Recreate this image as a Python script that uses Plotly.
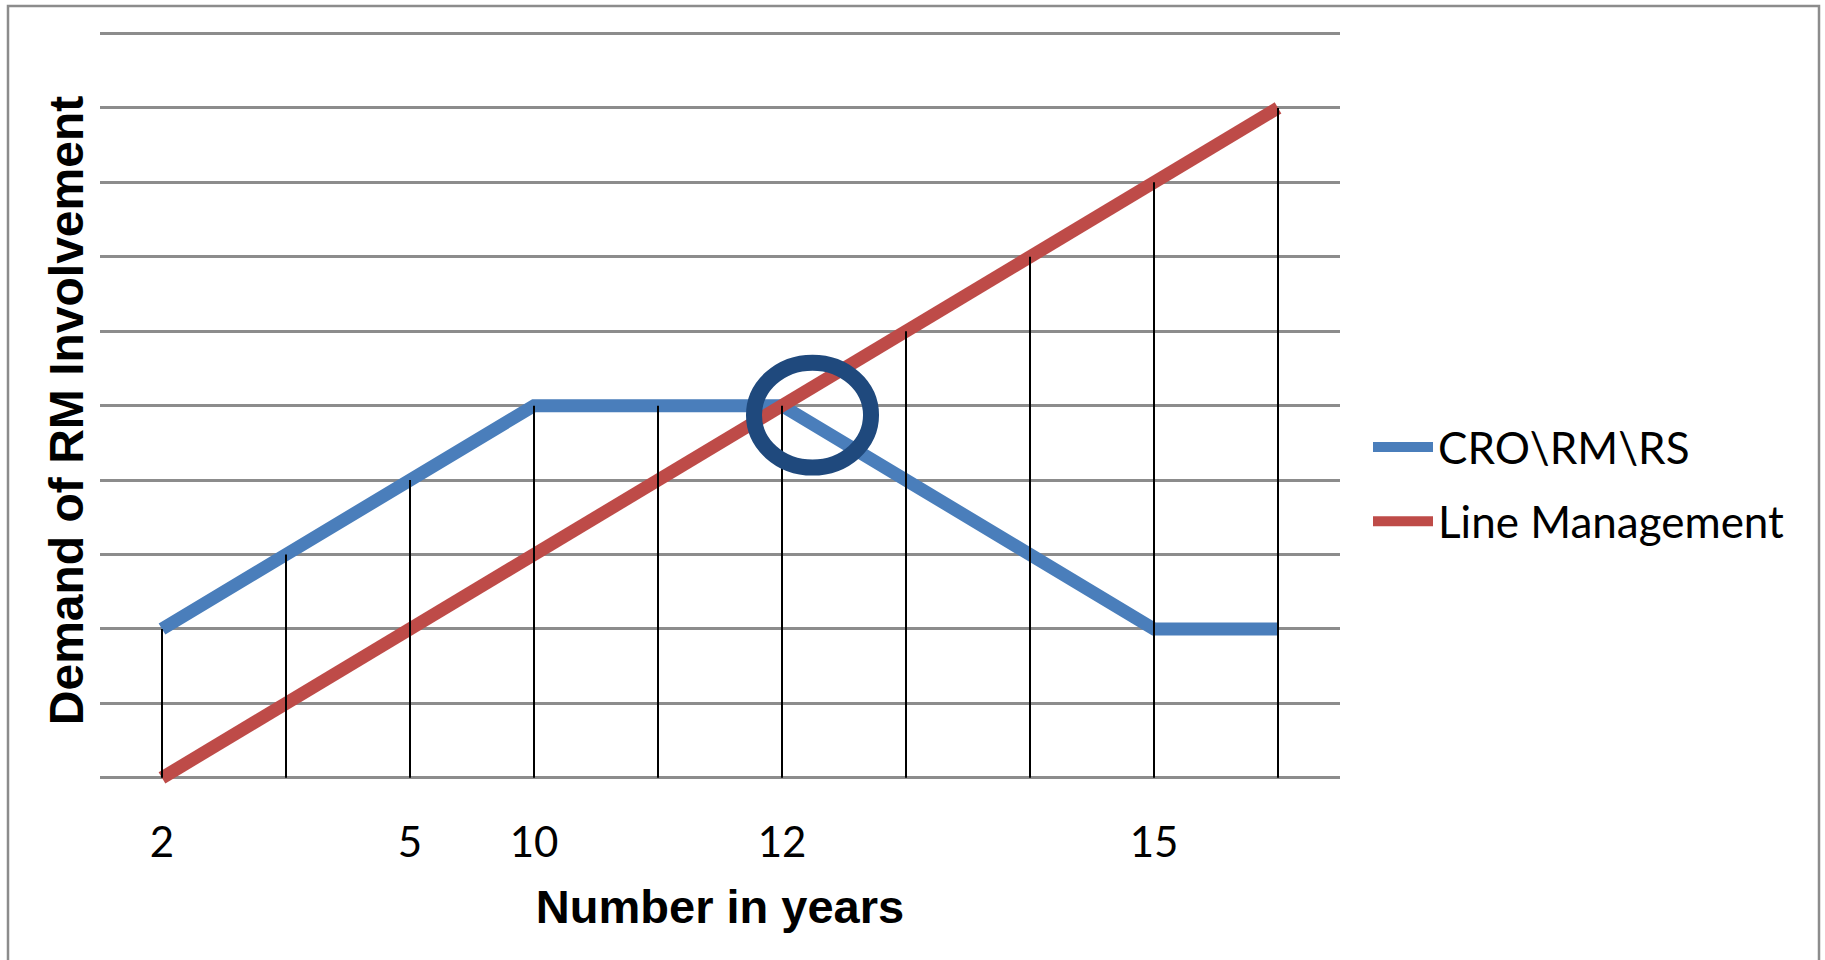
import plotly.graph_objects as go

# Data: demand level per period for each group
periods = list(range(10))
tick_labels = ["2", "", "5", "10", "", "12", "", "", "15", ""]
cro_rm_rs = [2, 3, 4, 5, 5, 5, 4, 3, 2, 2]
line_management = [0, 1, 2, 3, 4, 5, 6, 7, 8, 9]

BLUE = "#4A7EBB"
RED = "#BE4B48"
DARK_BLUE = "#1F497D"
GRID = "#8C8C8C"

W, H = 1825, 960
M_L, M_R, M_T, M_B = 100, 485, 32, 171
Y_RANGE = [-0.15, 10.02]

fig = go.Figure()

fig.add_trace(go.Scatter(
    x=periods, y=cro_rm_rs, mode="lines", name="CRO\\RM\\RS", legendgroup="a",
    line=dict(color=BLUE, width=13), hoverinfo="skip",
))
fig.add_trace(go.Scatter(
    x=periods, y=line_management, mode="lines", name="Line Management", legendgroup="b",
    line=dict(color=RED, width=13), hoverinfo="skip",
))

# Drop lines from the higher of the two series down to the axis
drop_x, drop_y = [], []
for p, a, b in zip(periods, cro_rm_rs, line_management):
    drop_x += [p, p, None]
    drop_y += [max(a, b), 0, None]
fig.add_trace(go.Scatter(
    x=drop_x, y=drop_y, mode="lines", showlegend=False,
    line=dict(color="black", width=2), hoverinfo="skip",
))

# Highlight ring around the crossover
ring_cx, ring_cy, ring_rx, ring_ry = 5.246, 4.873, 0.472, 0.705
fig.add_shape(type="circle", xref="x", yref="y",
              x0=ring_cx - ring_rx, x1=ring_cx + ring_rx,
              y0=ring_cy - ring_ry, y1=ring_cy + ring_ry,
              line=dict(color=DARK_BLUE, width=16), layer="above")

# Outer chart frame
plot_w = W - M_L - M_R
plot_h = H - M_T - M_B
def px_x(px):
    return (px - M_L) / plot_w
def px_y(py):
    return (H - M_B - py) / plot_h
fig.add_shape(type="rect", xref="paper", yref="paper",
              x0=px_x(8), x1=px_x(1819), y0=px_y(975), y1=px_y(6),
              line=dict(color=GRID, width=2.5), layer="below")

fig.update_layout(
    width=W, height=H,
    margin=dict(l=M_L, r=M_R, t=M_T, b=M_B),
    paper_bgcolor="white", plot_bgcolor="white",
    showlegend=True,
    legend=dict(
        x=px_x(1368), y=px_y(412), xanchor="left", yanchor="top",
        font=dict(family="Lato, Calibri, sans-serif", size=44, color="black"),
        itemwidth=60, traceorder="grouped", tracegroupgap=14,
        bgcolor="rgba(0,0,0,0)",
    ),
    xaxis=dict(
        range=[-0.5, 9.5], tickmode="array", tickvals=periods, ticktext=tick_labels,
        showgrid=False, zeroline=False, showline=False, ticks="",
        tickfont=dict(family="Lato, Calibri, sans-serif", size=42, color="black"),
        ticklabelstandoff=25,
        title=dict(text="Number in years", standoff=25,
                   font=dict(family="Liberation Sans, Arial, sans-serif", size=47,
                             color="black", weight="bold")),
    ),
    yaxis=dict(
        range=Y_RANGE, tickmode="linear", tick0=0, dtick=1,
        showgrid=True, gridcolor=GRID, gridwidth=2.5,
        zeroline=True, zerolinecolor=GRID, zerolinewidth=2.5,
        showline=False, showticklabels=False, ticks="",
        title=dict(text="Demand of RM Involvement", standoff=0,
                   font=dict(family="Liberation Sans, Arial, sans-serif", size=48,
                             color="black", weight="bold")),
    ),
)

fig.write_html("out.html")
